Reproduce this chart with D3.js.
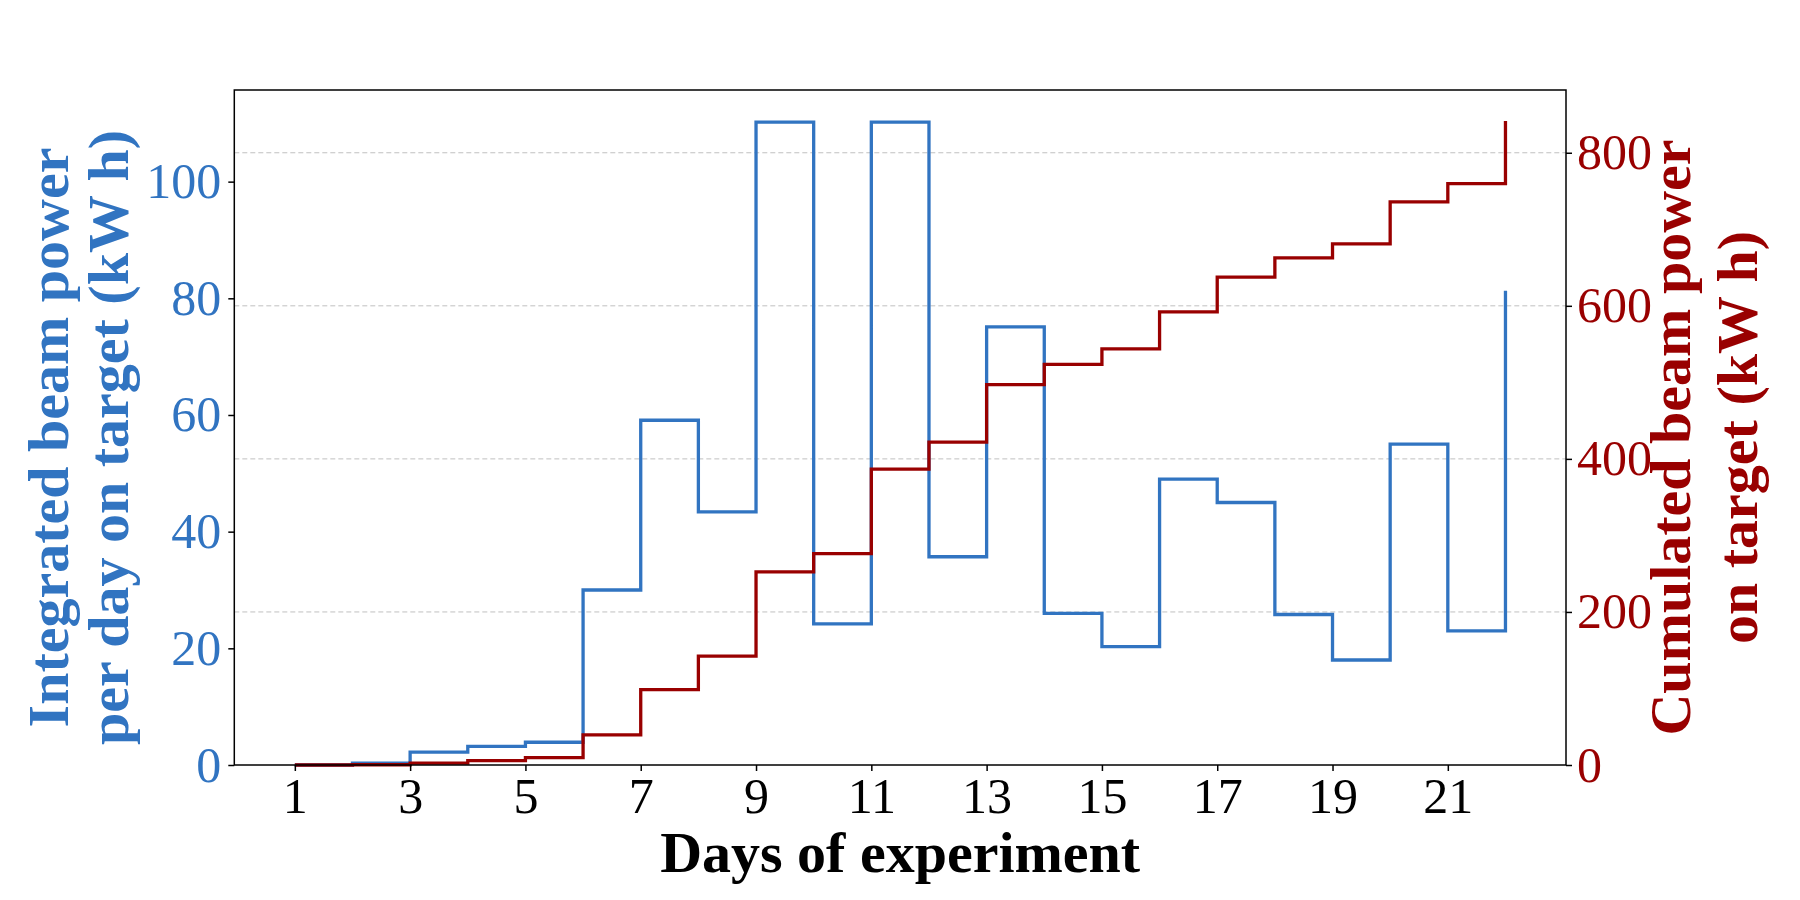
<!DOCTYPE html>
<html>
<head>
<meta charset="utf-8">
<script src="https://cdn.jsdelivr.net/npm/d3@7"></script>
<style>
	body { margin: 0; background: #fff; }
	svg text { font-family: "Liberation Serif", "DejaVu Serif", serif; }
</style>
</head>
<body>
<div id="chart"></div>
<script>
//######################## Data ########################

var days = [1,2,3,4,5,6,7,8,9,10,11,12,13,14,15,16,17,18,19,20,21,22];
//Integrated beam power per day (kW h) - left axis
var dailyPower = [0,0.3,2.2,3.2,3.9,30.0,59.1,43.4,110.2,24.2,110.2,35.7,75.1,26.0,20.3,49.0,45.0,25.8,18.0,55.0,23.0,81.3];
//Cumulated beam power (kW h) - right axis
var cumulPower = [0,0.3,2.5,5.7,9.6,39.4,98.5,142.2,252.3,276.2,386.6,422.0,497.0,523.6,543.8,592.0,637.5,662.6,681.0,735.7,759.6,841.5];

var xTicks = [1,3,5,7,9,11,13,15,17,19,21];
var leftTicks = [0,20,40,60,80,100];
var rightTicks = [0,200,400,600,800];

var blue = "#3174c1";
var red = "#990000";

//######################## Layout ###########################################

var width = 1800;
var height = 900;
var plotLeft = 234.3, plotRight = 1566, plotTop = 90, plotBottom = 765;
var fontSize = 50;		//tick labels
var titleSize = 58;		//axis titles

var svg = d3.select("#chart")
			.append("svg")
			.attr("width",width)
			.attr("height",height);

var xscale = d3.scaleLinear().domain([-0.05,23.05]).range([plotLeft,plotRight]);
var yLeft = d3.scaleLinear().domain([0,110.2*1.05]).range([plotBottom,plotTop]);
var yRight = d3.scaleLinear().domain([0,840*1.05]).range([plotBottom,plotTop]);

//Dashed grid from the right axis ticks
svg.append("g").attr("class","grid")
	.selectAll("line")
	.data(rightTicks.filter(function(d) { return d > 0; }))
	.enter().append("line")
		.attr("x1",plotLeft).attr("x2",plotRight)
		.attr("y1",function(d) { return yRight(d); })
		.attr("y2",function(d) { return yRight(d); })
		.attr("stroke","#c0c0c0")
		.attr("stroke-width",1)
		.attr("stroke-dasharray","5,3");

//Step lines
var blueLine = d3.line()
	.x(function(d,i) { return xscale(days[i]); })
	.y(function(d) { return yLeft(d); })
	.curve(d3.curveStepAfter);
var redLine = d3.line()
	.x(function(d,i) { return xscale(days[i]); })
	.y(function(d) { return yRight(d); })
	.curve(d3.curveStepAfter);

svg.append("path").datum(dailyPower)
	.attr("d",blueLine)
	.attr("fill","none")
	.attr("stroke",blue)
	.attr("stroke-width",3.3);
svg.append("path").datum(cumulPower)
	.attr("d",redLine)
	.attr("fill","none")
	.attr("stroke",red)
	.attr("stroke-width",3.3);

//Axes
var xaxis = d3.axisBottom(xscale).tickValues(xTicks).tickSize(6).tickSizeOuter(0).tickPadding(6);
var yaxisL = d3.axisLeft(yLeft).tickValues(leftTicks).tickSize(6).tickSizeOuter(0).tickPadding(7);
var yaxisR = d3.axisRight(yRight).tickValues(rightTicks).tickSize(6).tickSizeOuter(0).tickPadding(5);

function styleAxis(g,color){
	g.select(".domain").remove();
	g.selectAll(".tick line").attr("stroke","#000").attr("stroke-width",1.5);
	g.selectAll(".tick text")
		.attr("fill",color)
		.style("font-family","'Liberation Serif', serif")
		.style("font-size",fontSize+"px");
}

svg.append("g").attr("class","xaxis").attr("transform","translate(0,"+plotBottom+")").call(xaxis).call(styleAxis,"#000");
svg.append("g").attr("class","yaxis").attr("transform","translate("+plotLeft+",0)").call(yaxisL).call(styleAxis,blue);
svg.append("g").attr("class","yaxis2").attr("transform","translate("+plotRight+",0)").call(yaxisR).call(styleAxis,red);

//Frame
svg.append("rect")
	.attr("x",plotLeft).attr("y",plotTop)
	.attr("width",plotRight-plotLeft).attr("height",plotBottom-plotTop)
	.attr("fill","none")
	.attr("stroke","#000")
	.attr("stroke-width",1.5);

//Axis titles
var midY = (plotTop+plotBottom)/2 + 10;
svg.append("text")
	.attr("x",(plotLeft+plotRight)/2)
	.attr("y",872)
	.attr("text-anchor","middle")
	.style("font-size",titleSize+"px")
	.style("font-weight","bold")
	.text("Days of experiment");

function twoLineLabel(lines,xs,color){
	for(var i = 0; i < lines.length; i++){
		svg.append("text")
			.attr("transform","translate("+xs[i]+","+midY+") rotate(-90)")
			.attr("text-anchor","middle")
			.attr("fill",color)
			.style("font-size",titleSize+"px")
			.style("font-weight","bold")
			.text(lines[i]);
	}
}
twoLineLabel(["Integrated beam power","per day on target (kW h)"],[68,128],blue);
twoLineLabel(["Cumulated beam power","on target (kW h)"],[1690,1757],red);
</script>
</body>
</html>
